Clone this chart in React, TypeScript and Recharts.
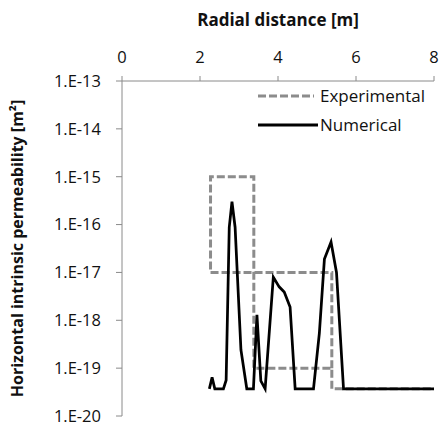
import React from 'react';
import { LineChart, Line, XAxis, YAxis, Label } from 'recharts';

// Numerical profile (radial distance in m, permeability in m2)
const numX = [2.24, 2.31, 2.38, 2.6, 2.67, 2.75, 2.82, 2.9, 3.05, 3.2, 3.37, 3.46, 3.56, 3.67, 3.88, 4.03, 4.16, 4.31, 4.44, 4.91, 5.06, 5.19, 5.36, 5.5, 5.68, 8];
const numK = [3.7e-20, 6.4e-20, 3.7e-20, 3.7e-20, 5.6e-20, 8.8e-17, 3e-16, 8.8e-17, 2.4e-19, 3.7e-20, 3.7e-20, 1.3e-18, 5.4e-20, 3.7e-20, 8e-18, 5e-18, 3.9e-18, 1.9e-18, 3.7e-20, 3.7e-20, 5.3e-19, 1.9e-17, 4.3e-17, 1e-17, 3.7e-20, 3.7e-20];

// Experimental profile, drawn as one continuous path
const expX = [5.38, 5.38, 3.38, 2.27, 2.27, 3.38, 3.38, 3.38, 5.38, 5.38, 8];
const expK = [1e-19, 1e-17, 1e-17, 1e-17, 1e-15, 1e-15, 1e-17, 1e-19, 1e-19, 3.7e-20, 3.7e-20];

const xTicks = [0, 2, 4, 6, 8];
const yTicks = [1e-20, 1e-19, 1e-18, 1e-17, 1e-16, 1e-15, 1e-14, 1e-13];

const numData = numX.map((x, i) => ({ x, k: numK[i] }));
const expData = expX.map((x, i) => ({ x, k: expK[i] }));

const FONT = '"Open Sans", sans-serif';
const AXIS = '#8a8a8a';
const EXP = '#8c8c8c';

const fmtExp = (v: number) => `1.E${Math.round(Math.log10(v))}`;

const LegendBox = () => (
  <div style={{ position: 'absolute', left: 258, top: 81, fontFamily: FONT, fontSize: 17, color: '#111', lineHeight: 1 }}>
    <div style={{ display: 'flex', alignItems: 'center', height: 29 }}>
      <svg width={62} height={10} style={{ display: 'block' }}>
        <line x1={0} y1={5} x2={56} y2={5} stroke={EXP} strokeWidth={3} strokeDasharray="8 3" />
      </svg>
      <span>Experimental</span>
    </div>
    <div style={{ display: 'flex', alignItems: 'center', height: 29 }}>
      <svg width={62} height={10} style={{ display: 'block' }}>
        <line x1={0} y1={5} x2={60} y2={5} stroke="#000" strokeWidth={3} />
      </svg>
      <span>Numerical</span>
    </div>
  </div>
);

export default function App() {
  return (
    <div style={{ position: 'absolute', left: 0, top: 0, width: 442, height: 434 }}>
      <LineChart width={442} height={434} margin={{ top: 0, right: 8, bottom: 18, left: 0 }}>
        <XAxis
          dataKey="x"
          type="number"
          orientation="top"
          domain={[0, 8]}
          ticks={xTicks}
          height={81}
          stroke={AXIS}
          tickSize={5}
          tickMargin={13}
          tick={{ fill: '#111', fontFamily: FONT, fontSize: 16.5 }}
        >
          <Label
            content={({ viewBox }: any) => (
              <text
                x={viewBox.x + viewBox.width / 2}
                y={26}
                textAnchor="middle"
                fontFamily={FONT}
                fontSize={17}
                fontWeight="bold"
                fill="#111"
              >
                Radial distance [m]
              </text>
            )}
          />
        </XAxis>
        <YAxis
          dataKey="k"
          scale="log"
          domain={[1e-20, 1e-13]}
          ticks={yTicks}
          allowDataOverflow
          width={122}
          stroke={AXIS}
          tickSize={6}
          tickMargin={15}
          tickFormatter={fmtExp}
          tick={{ fill: '#111', fontFamily: FONT, fontSize: 16.5 }}
        >
          <Label
            content={({ viewBox }: any) => {
              const cx = 23;
              const cy = viewBox.y + viewBox.height / 2;
              return (
                <text
                  x={cx}
                  y={cy}
                  transform={`rotate(-90, ${cx}, ${cy})`}
                  textAnchor="middle"
                  fontFamily={FONT}
                  fontSize={16}
                  fontWeight="bold"
                  fill="#111"
                >
                  Horizontal intrinsic permeability [m²]
                </text>
              );
            }}
          />
        </YAxis>
        <Line
          data={expData}
          dataKey="k"
          stroke={EXP}
          strokeWidth={3}
          strokeDasharray="8 3"
          dot={false}
          activeDot={false}
          type="linear"
          isAnimationActive={false}
        />
        <Line
          data={numData}
          dataKey="k"
          stroke="#000"
          strokeWidth={2.75}
          dot={false}
          activeDot={false}
          type="linear"
          isAnimationActive={false}
        />
      </LineChart>
      <LegendBox />
    </div>
  );
}
